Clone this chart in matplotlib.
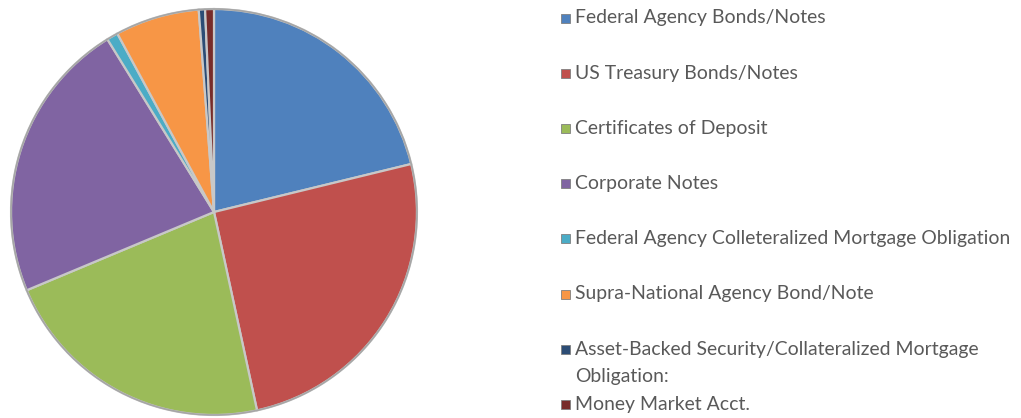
"""Camembert de répartition du portefeuille, avec légende à droite."""

import matplotlib
matplotlib.use("Agg")
import matplotlib.pyplot as plt
from matplotlib.patches import Rectangle

# Données (en %)
categories = [
    "Federal Agency Bonds/Notes",
    "US Treasury Bonds/Notes",
    "Certificates of Deposit",
    "Corporate Notes",
    "Federal Agency Colleteralized Mortgage Obligation",
    "Supra-National Agency Bond/Note",
    "Asset-Backed Security/Collateralized Mortgage\nObligation:",
    "Money Market Acct.",
]
parts = [21.2, 25.4, 22.1, 22.5, 0.9, 6.7, 0.5, 0.7]
couleurs = ["#4F81BD", "#C0504D", "#9BBB59", "#8064A2",
            "#4BACC6", "#F79646", "#2C4D75", "#772C2A"]

COULEUR_TEXTE = "#595959"
POLICE = "Lato"
W, H = 1021, 418

fig = plt.figure(figsize=(W / 100, H / 100), dpi=100)

# Axe du camembert : centre (214, 212) px, rayon ~205 px
cx, cy, r = 214, 212, 205
ax = fig.add_axes([(cx - r) / W, (H - cy - r) / H, 2 * r / W, 2 * r / H])
ax.pie(parts, colors=couleurs, startangle=90, counterclock=False, radius=1.0,
       wedgeprops=dict(edgecolor="#c8c8c8", linewidth=1.6))
ax.add_patch(plt.Circle((0, 0), 1.0, fill=False, edgecolor="#a6a6a6", linewidth=1.2))
ax.set_xlim(-1.01, 1.01)
ax.set_ylim(-1.01, 1.01)
ax.set_aspect("equal")
ax.axis("off")

# Taille de police ajustée pour que l'entrée la plus longue fasse ~438 px
renderer = fig.canvas.get_renderer()
essai = fig.text(0, 0, categories[4], fontsize=14, family=POLICE)
largeur = essai.get_window_extent(renderer).width
essai.remove()
taille = 14 * 436 / largeur

# Légende dessinée à la main (espacement régulier, entrée sur deux lignes)
y0, pas = 18, 55.2
for i, (nom, coul) in enumerate(zip(categories, couleurs)):
    y = y0 + i * pas
    fig.patches.append(Rectangle((561 / W, (H - y - 4.5) / H), 9 / W, 9 / H,
                                 transform=fig.transFigure, facecolor=coul,
                                 edgecolor="#7f7f7f", linewidth=0.6))
    for j, ligne in enumerate(nom.split("\n")):
        fig.text(575 / W, (H - y - j * 27.5) / H, ligne, fontsize=taille,
                 color=COULEUR_TEXTE, family=POLICE, va="center")

fig.savefig("out.png", dpi=100, facecolor="white")
